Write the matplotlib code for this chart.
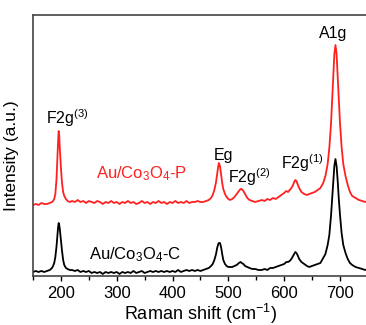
import matplotlib
matplotlib.use('Agg')
import matplotlib.pyplot as plt
from matplotlib.ticker import MultipleLocator

plt.rcParams['font.family'] = ['Liberation Sans', 'DejaVu Sans']
plt.rcParams['mathtext.fontset'] = 'custom'
plt.rcParams['mathtext.rm'] = 'Liberation Sans'
plt.rcParams['mathtext.it'] = 'Liberation Sans:italic'

# Raman shift (cm-1)
shift = [150, 155, 160, 165, 170, 175, 180,
         184, 186, 188, 190, 192, 194, 195, 196, 197, 198, 200, 202, 204, 206, 209, 212, 216,
         220, 225, 230, 235, 240, 245, 250, 255, 260, 265, 270, 275, 280, 285, 290, 295,
         300, 305, 310, 315, 320, 325, 330, 335, 340, 345, 350, 355, 360, 365, 370, 375,
         380, 385, 390, 395, 400, 405, 410, 415, 420, 425, 430, 435, 440, 445, 450,
         455, 460, 465, 469, 472, 475, 478, 480, 482, 483, 485, 487, 489, 491, 494, 497,
         500, 503, 507, 511, 515, 519, 522, 524, 527, 530, 534, 538, 543, 548, 554,
         560, 565, 570, 575, 580, 585, 590, 595, 600, 604, 607, 610, 613, 616, 618, 620,
         622, 624, 627, 631, 636, 641, 645,
         650, 655, 660, 665, 670, 674, 678, 681, 684, 686, 688, 690, 692, 694, 696, 698,
         700, 703, 706, 710, 714, 718, 722, 728, 734, 740, 745, 750]

# Au/Co3O4-P (offset spectrum, red)
int_p = [71, 72, 71, 73, 72, 72, 73,
         74, 75, 77, 82, 96, 122, 135, 145, 140, 128, 108, 93, 84, 80, 77, 75, 74,
         75, 74, 76, 74, 75, 73, 75, 74, 73, 75, 74, 72, 74, 73, 75, 73,
         74, 72, 74, 73, 75, 73, 74, 72, 73, 75, 73, 74, 72, 74, 73, 75,
         73, 74, 72, 74, 73, 75, 73, 74, 73, 75, 73, 74, 74, 75, 74,
         74, 75, 76, 78, 81, 86, 94, 102, 110, 113, 110, 102, 93, 87, 82, 79,
         77, 76, 77, 79, 82, 85, 87, 87, 85, 82, 78, 76, 75, 74, 75,
         76, 75, 77, 76, 78, 77, 79, 81, 83, 85, 84, 86, 88, 91, 94, 96,
         95, 92, 88, 84, 82, 81, 82,
         83, 84, 86, 88, 93, 100, 112, 128, 152, 176, 201, 222, 231, 222, 200, 176,
         154, 129, 112, 100, 91, 84, 80, 78, 76, 75, 74, 75]

# Au/Co3O4-C (black)
int_c = [4, 5, 4, 5, 4, 5, 6,
         8, 10, 13, 19, 29, 43, 49, 53, 51, 47, 36, 25, 16, 11, 8, 7, 6,
         6, 5, 6, 4, 5, 4, 5, 3, 4, 3, 4, 2, 4, 3, 4, 3,
         4, 2, 4, 3, 4, 3, 5, 3, 4, 5, 3, 4, 5, 4, 5, 4,
         5, 4, 5, 4, 5, 4, 6, 4, 5, 6, 5, 6, 5, 6, 5,
         6, 7, 8, 10, 12, 16, 22, 28, 32, 33, 33, 29, 22, 16, 12, 10,
         9, 9, 9, 10, 11, 13, 14, 13, 12, 10, 9, 8, 7, 7, 6,
         6, 7, 6, 8, 8, 9, 10, 11, 12, 14, 14, 15, 17, 20, 22, 24,
         23, 21, 17, 14, 12, 10, 9,
         10, 11, 12, 13, 18, 22, 31, 41, 60, 77, 95, 110, 117, 110, 95, 77,
         62, 43, 31, 23, 17, 13, 11, 9, 8, 7, 6, 7]

# peak labels: text, x, y (data units)
peak_labels = [('F2g$^{(3)}$', 174, 152),
               ('Eg', 474, 116),
               ('F2g$^{(2)}$', 499, 93),
               ('F2g$^{(1)}$', 594, 107),
               ('A1g', 662, 238)]

fig = plt.figure(figsize=(3.66, 3.25), dpi=100)
ax = fig.add_axes([0.0902, 0.1508, 0.9148, 0.803])

ax.plot(shift, int_p, color='#ff2020', linewidth=1.3)
ax.plot(shift, int_c, color='black', linewidth=1.3)

for txt, x, y in peak_labels:
    ax.text(x, y, txt, fontsize=11.5, ha='left', va='baseline')

ax.text(262, 98, 'Au/Co$_3$O$_4$-P', color='#ff2020', fontsize=12, ha='left', va='baseline')
ax.text(251, 17, 'Au/Co$_3$O$_4$-C', color='black', fontsize=12, ha='left', va='baseline')

ax.set_xlim(150, 750)
ax.set_ylim(0, 261)
ax.xaxis.set_major_locator(MultipleLocator(100))
ax.xaxis.set_minor_locator(MultipleLocator(50))
ax.set_yticks([])
ax.tick_params(axis='x', which='major', direction='out', length=3.5, width=1, labelsize=12, pad=4)
ax.tick_params(axis='x', which='minor', direction='out', length=3, width=1)

for s in ax.spines.values():
    s.set_color('#444444')
    s.set_linewidth(1.2)

ax.set_xlabel('Raman shift (cm$^{-1}$)', fontsize=13, labelpad=0)
ax.set_ylabel('Intensity (a.u.)', fontsize=12.5)
ax.yaxis.set_label_coords(-0.042, 0.46)

plt.savefig('out.png', dpi=100)
